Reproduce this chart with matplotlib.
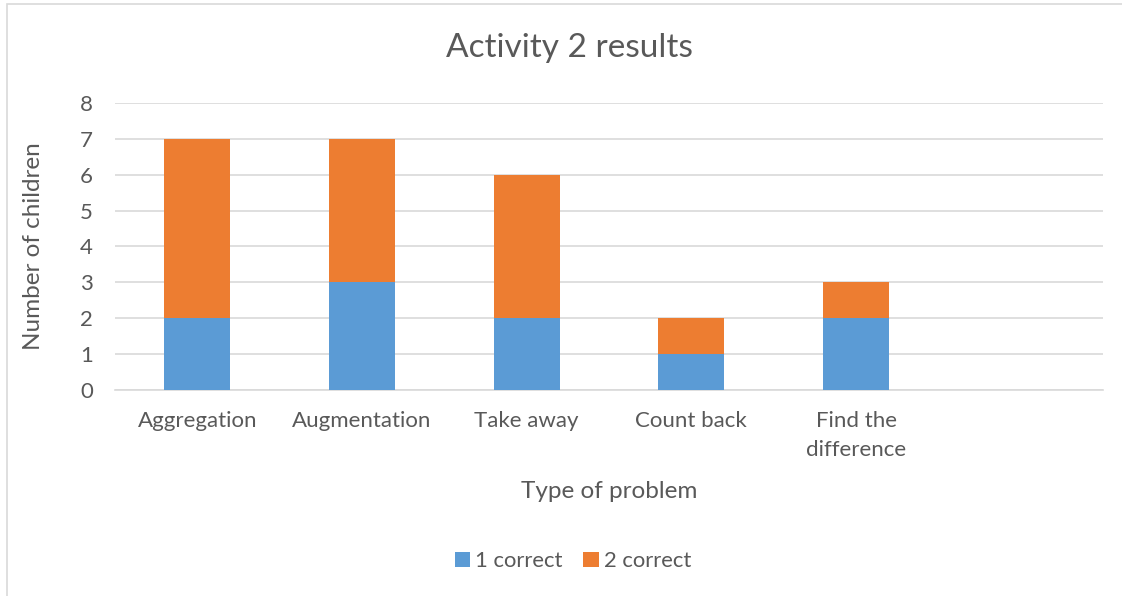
import matplotlib.pyplot as plt
from matplotlib.patches import Rectangle

categories = ["Aggregation", "Augmentation", "Take away", "Count back", "Find the\ndifference", ""]
one_correct = [2, 3, 2, 1, 2, 0]
two_correct = [5, 4, 4, 1, 1, 0]

txt = '#595959'
plt.rcParams['font.family'] = ['Lato', 'DejaVu Sans']

fig = plt.figure(figsize=(11.22, 5.96), dpi=100)
ax = fig.add_axes([115 / 1122, 1 - 390 / 596, 988 / 1122, 287 / 596])

x = list(range(len(categories)))
ax.bar(x, one_correct, width=0.4, color='#5b9bd5', label='1 correct', zorder=3)
ax.bar(x, two_correct, width=0.4, bottom=one_correct, color='#ed7d31', label='2 correct', zorder=3)

ax.set_xlim(-0.5, len(categories) - 0.5)
ax.set_ylim(0, 8)
ax.set_yticks(range(0, 9))
ax.set_xticks(x)
ax.set_xticklabels(categories, fontsize=16, color=txt, linespacing=1.6)
ax.tick_params(axis='y', labelsize=16, labelcolor=txt, length=0, pad=16)
ax.tick_params(axis='x', length=0, pad=15)
ax.grid(axis='y', color='#d9d9d9', linewidth=1.2, zorder=0)
for s in ['top', 'right', 'left']:
    ax.spines[s].set_visible(False)
ax.spines['bottom'].set_color('#d9d9d9')
ax.spines['bottom'].set_linewidth(1.2)

ax.set_xlabel('Type of problem', fontsize=17.5, color=txt, labelpad=15)
ax.set_ylabel('Number of children', fontsize=17.5, color=txt, labelpad=26)
fig.text(569 / 1122, 1 - 48 / 596, 'Activity 2 results', fontsize=24, color=txt, ha='center', va='center')

leg = fig.legend(loc='center', bbox_to_anchor=(573 / 1122, 1 - 561 / 596), ncol=2, frameon=False,
                 fontsize=15.8, handlelength=0.7, handleheight=0.7, handletextpad=0.22, columnspacing=0.95)
for t in leg.get_texts():
    t.set_color(txt)

fig.patches.append(Rectangle((7 / 1122, -0.1), 1.2, 1 - 4 / 596 + 0.1, transform=fig.transFigure,
                             fill=False, edgecolor='#d9d9d9', linewidth=1.2))

plt.savefig('out.png', dpi=100)
